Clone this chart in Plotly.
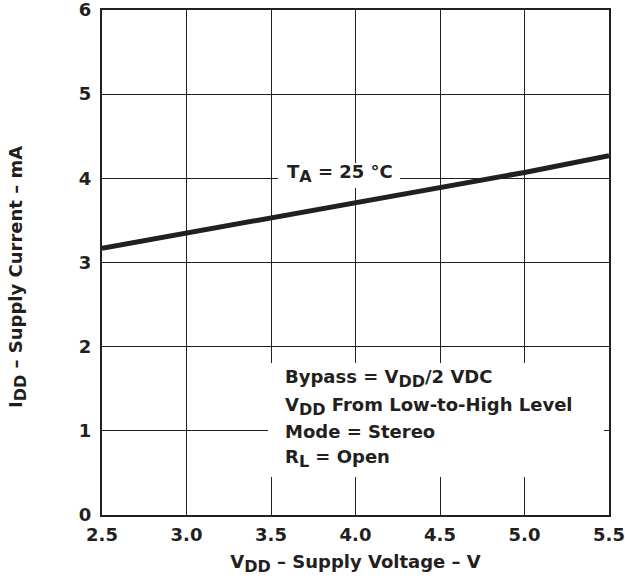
import plotly.graph_objects as go

# Data
vdd = [2.5, 3.0, 3.5, 4.0, 4.5, 5.0, 5.5]
idd = [3.17, 3.35, 3.53, 3.71, 3.89, 4.07, 4.27]

x_ticks = [2.5, 3.0, 3.5, 4.0, 4.5, 5.0, 5.5]
x_tick_labels = ["2.5", "3.0", "3.5", "4.0", "4.5", "5.0", "5.5"]
y_ticks = [0, 1, 2, 3, 4, 5, 6]
y_tick_labels = ["0", "1", "2", "3", "4", "5", "6"]

SUB = '<sub><span style="font-size:16px">{}</span></sub>'

cond_lines = [
    "Bypass = V" + SUB.format("DD") + "/2 VDC",
    "V" + SUB.format("DD") + " From Low-to-High Level",
    "Mode = Stereo",
    "R" + SUB.format("L") + " = Open",
]
cond_y = [1.618, 1.290, 0.992, 0.667]

INK = "#231f20"
FONT = "DejaVu Sans, Liberation Sans, sans-serif"
FS = 18

fig = go.Figure()
fig.add_trace(go.Scatter(x=vdd, y=idd, mode="lines",
                         line=dict(color=INK, width=5), showlegend=False))

fig.update_layout(
    width=625, height=582,
    margin=dict(l=102, r=16, t=10, b=67),
    paper_bgcolor="white", plot_bgcolor="white",
    font=dict(family=FONT, size=FS, color=INK),
    xaxis=dict(range=[2.5, 5.5], tickvals=x_ticks, ticktext=x_tick_labels,
               showgrid=True, gridcolor=INK, gridwidth=1, zeroline=False,
               showline=True, linecolor=INK, linewidth=2, mirror=True,
               ticks="", ticklabelstandoff=2, automargin=False,
               ticklabeloverflow="allow",
               tickfont=dict(family=FONT, size=FS, color=INK, weight="bold"),
               title=dict(text="<b>V" + SUB.format("DD") + " – Supply Voltage – V</b>",
                          font=dict(family=FONT, size=FS, color=INK), standoff=12)),
    yaxis=dict(range=[0, 6], tickvals=y_ticks, ticktext=y_tick_labels,
               showgrid=True, gridcolor=INK, gridwidth=1, zeroline=False,
               showline=True, linecolor=INK, linewidth=2, mirror=True,
               ticks="", ticklabelstandoff=5, automargin=False,
               ticklabeloverflow="allow",
               tickfont=dict(family=FONT, size=FS, color=INK, weight="bold")),
)

# Y-axis title as a rotated annotation (placed like the reference)
fig.add_annotation(xref="paper", yref="paper",
                   x=(17 - 102) / 507, y=(515 - 277) / 505,
                   text="<b>I" + SUB.format("DD") + " – Supply Current – mA</b>",
                   textangle=-90, showarrow=False, xanchor="center", yanchor="middle",
                   font=dict(family=FONT, size=FS, color=INK))

# White boxes hiding the grid behind the labels
fig.add_shape(type="rect", xref="paper", yref="paper",
              x0=(278 - 102) / 507, x1=(400 - 102) / 507,
              y0=(515 - 188) / 505, y1=(515 - 163) / 505,
              fillcolor="white", line=dict(width=0), layer="above")
fig.add_shape(type="rect", xref="paper", yref="paper",
              x0=(268 - 102) / 507, x1=(604 - 102) / 507,
              y0=(515 - 477) / 505, y1=(515 - 363) / 505,
              fillcolor="white", line=dict(width=0), layer="above")

fig.add_annotation(x=3.908, y=4.057,
                   text="<b>T" + SUB.format("A") + " = 25 °C</b>",
                   showarrow=False, xanchor="center", yanchor="middle",
                   font=dict(family=FONT, size=FS, color=INK))

for t, yy in zip(cond_lines, cond_y):
    fig.add_annotation(x=3.569, y=yy, text="<b>" + t + "</b>", showarrow=False,
                       xanchor="left", yanchor="middle", align="left",
                       font=dict(family=FONT, size=FS, color=INK))

fig.write_html("out.html", config={"displayModeBar": False},
               post_script="document.body.style.margin='0';")
